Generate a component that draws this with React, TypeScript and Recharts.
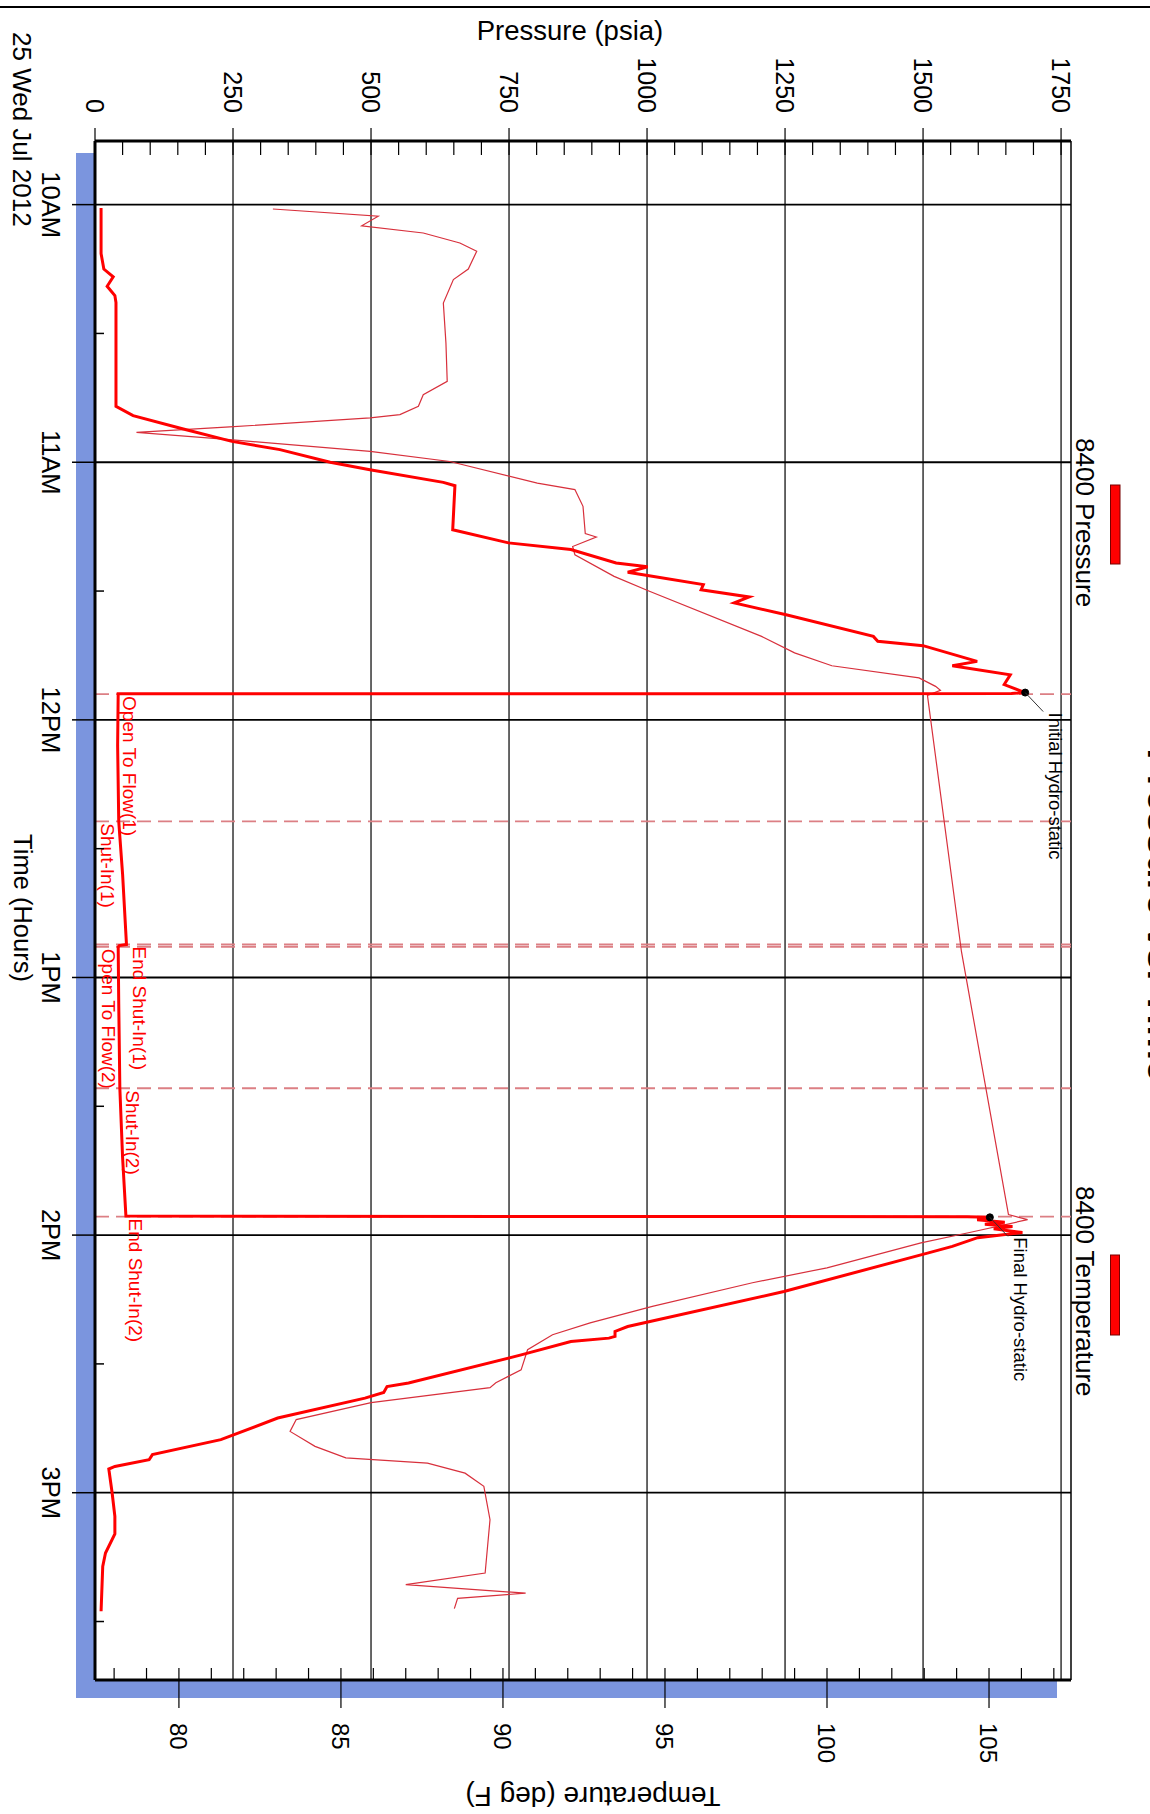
import { LineChart, Line, XAxis, YAxis, ReferenceLine, ReferenceDot } from 'recharts'

// the chart is laid out landscape and turned 90deg clockwise onto the page
const W = 1814
const H = 1150
const FONT = '"Liberation Sans", Arial, Helvetica, sans-serif'
const SHADOW = '#7b95de'
const EVENT_COLOR = '#dc7f84'

const TIME_DOMAIN = [9.753, 15.727]
const TIME_TICKS = [10, 11, 12, 13, 14, 15]
const TIME_TICK_LABELS = ['10AM', '11AM', '12PM', '1PM', '2PM', '3PM']
const TIME_MINOR = [10.5, 11.5, 12.5, 13.5, 14.5, 15.5]

const PRESSURE_DOMAIN = [0, 1768]
const PRESSURE_TICKS = [0, 250, 500, 750, 1000, 1250, 1500, 1750]
const TEMP_DOMAIN = [77.41, 107.53]
const TEMP_TICKS = [80, 85, 90, 95, 100, 105]

const PRESSURE_MINOR = Array.from({ length: 36 }, (_, i) => i * 50)
const TEMP_MINOR = Array.from({ length: 30 }, (_, i) => 78 + i)

// 8400 Pressure (psia)
const PRESSURE_TIME = [
  10.013, 10.19, 10.25, 10.28, 10.317, 10.353, 10.38, 10.783, 10.819, 10.871, 10.919, 10.951, 11.0, 11.029,
  11.078, 11.091, 11.262, 11.313, 11.339, 11.391, 11.406, 11.427, 11.44, 11.475, 11.495, 11.523, 11.546,
  11.592, 11.676, 11.695, 11.712, 11.773, 11.79, 11.825, 11.863, 11.894, 11.898, 11.899, 12.1, 12.394, 12.6,
  12.872, 12.876, 12.882, 13.1, 13.43, 13.7, 13.926, 13.929, 13.931, 13.94, 13.95, 13.958, 13.967, 13.975,
  13.99, 14.01, 14.044, 14.07, 14.219, 14.355, 14.374, 14.393, 14.4, 14.413, 14.465, 14.574, 14.588, 14.611,
  14.633, 14.71, 14.794, 14.852, 14.872, 14.898, 14.908, 15.0, 15.092, 15.16, 15.234, 15.286, 15.46,
]
const PRESSURE_PSI = [
  11, 11, 16, 33, 22, 36, 38, 38, 69, 160, 248, 335, 426, 498,
  631, 652, 648, 749, 862, 944, 1001, 965, 1001, 1102, 1098, 1185, 1158,
  1252, 1410, 1418, 1500, 1598, 1553, 1658, 1647, 1685, 1660, 42, 41, 43, 50,
  57, 44, 42, 43, 45, 50, 56, 1580, 1621, 1598, 1648, 1612, 1662, 1628,
  1680, 1599, 1553, 1508, 1248, 965, 942, 942, 931, 862, 772, 568, 529, 523,
  489, 331, 228, 104, 98, 36, 25, 31, 36, 36, 19, 14, 11,
]

// 8400 Temperature (deg F)
const TEMP_TIME = [
  10.017, 10.045, 10.082, 10.11, 10.149, 10.181, 10.25, 10.291, 10.382, 10.537, 10.686, 10.738, 10.783,
  10.815, 10.828, 10.863, 10.884, 10.912, 10.958, 10.997, 11.081, 11.106, 11.171, 11.277, 11.29, 11.327,
  11.359, 11.443, 11.501, 11.676, 11.74, 11.79, 11.837, 11.87, 11.885, 11.905, 12.9, 13.92, 13.94, 13.99,
  14.03, 14.127, 14.185, 14.277, 14.341, 14.387, 14.445, 14.523, 14.573, 14.592, 14.65, 14.716, 14.762,
  14.82, 14.865, 14.885, 14.924, 14.975, 15.105, 15.312, 15.357, 15.39, 15.41, 15.45,
]
const TEMP_DEGF = [
  82.9, 86.15, 85.64, 87.54, 88.67, 89.19, 88.93, 88.47, 88.16, 88.24, 88.28, 87.54, 87.39,
  86.82, 85.9, 81.57, 78.69, 81.57, 85.9, 88.36, 91.06, 92.22, 92.47, 92.54, 92.88, 92.15,
  92.22, 93.43, 94.52, 97.98, 99.0, 100.15, 102.84, 103.35, 103.5, 103.1, 104.15, 105.6, 106.19, 104.4,
  102.9, 100.0, 97.7, 94.61, 92.69, 91.53, 90.76, 90.56, 89.78, 89.6, 85.93, 83.62, 83.43,
  84.2, 85.15, 87.67, 88.83, 89.41, 89.6, 89.45, 87.0, 90.7, 88.6, 88.5,
]

const EVENT_NAMES = ['Open To Flow(1)', 'Shut-In(1)', 'End Shut-In(1)', 'Open To Flow(2)', 'Shut-In(2)', 'End Shut-In(2)']
const EVENT_TIMES = [11.9, 12.394, 12.872, 12.881, 13.43, 13.928]
// label baseline height above the time axis, px
const EVENT_LABEL_RAISE = [28, 6, 38, 7, 31, 34]

const HYDRO_NAMES = ['Initial Hydro-static', 'Final Hydro-static']
const HYDRO_TIME = [11.894, 13.931]
const HYDRO_PSI = [1685, 1621]

const pressureData = PRESSURE_TIME.map((t, i) => ({ t, p: PRESSURE_PSI[i] }))
const tempData = TEMP_TIME.map((t, i) => ({ t, temp: TEMP_DEGF[i] }))

const PressureTick = (props: any) => {
  const { x, y, payload } = props
  const v = payload.value
  const major = PRESSURE_TICKS.includes(v)
  return (
    <g>
      <line x1={x} x2={x + 14} y1={y} y2={y} stroke="#000" strokeWidth={1.2} />
      {major && <line x1={x - 13} x2={x} y1={y} y2={y} stroke="#000" strokeWidth={1.2} />}
      {major && (
        <text x={x - 28} y={y + 9} textAnchor="end" fontSize={25} fill="#000" fontFamily={FONT}>
          {v}
        </text>
      )}
    </g>
  )
}

const TempTick = (props: any) => {
  const { x, y, payload } = props
  const v = payload.value
  const major = TEMP_TICKS.includes(v)
  return (
    <g>
      <line x1={x - 12} x2={x} y1={y} y2={y} stroke="#000" strokeWidth={1.2} />
      {major && <line x1={x} x2={x + 28} y1={y} y2={y} stroke="#000" strokeWidth={1.2} />}
      {major && (
        <text x={x + 43} y={y + 8.6} textAnchor="start" fontSize={24} fill="#000" fontFamily={FONT}>
          {v}
        </text>
      )}
    </g>
  )
}

const TimeTick = (props: any) => {
  const { x, y, payload } = props
  const idx = TIME_TICKS.indexOf(payload.value)
  if (idx < 0) {
    return <line x1={x} x2={x} y1={y - 9} y2={y} stroke="#000" strokeWidth={1.5} />
  }
  return (
    <g>
      <line x1={x} x2={x} y1={y} y2={y + 23} stroke="#000" strokeWidth={1.5} />
      <text x={x} y={y + 53} textAnchor="middle" fontSize={25.5} fill="#000" fontFamily={FONT}>
        {TIME_TICK_LABELS[idx]}
      </text>
    </g>
  )
}

const eventLabel = (text: string, raise: number) => (props: any) => {
  const vb = props.viewBox || { x: 0, y: 0, width: 0, height: 0 }
  return (
    <text x={vb.x + 2} y={vb.y + vb.height - raise} fill="#ff0000" fontSize={19} fontFamily={FONT}>
      {text}
    </text>
  )
}

const hydroLabel = (text: string) => (props: any) => {
  const vb = props.viewBox || { x: 0, y: 0, width: 0, height: 0 }
  const cx = vb.x + (vb.width || 0) / 2
  const cy = vb.y + (vb.height || 0) / 2
  return (
    <g>
      <line x1={cx} y1={cy} x2={cx + 19} y2={cy - 18} stroke="#333" strokeWidth={1} />
      <text x={cx + 20} y={cy - 24} fontSize={18.5} fill="#000" fontFamily={FONT}>
        {text}
      </text>
    </g>
  )
}

export default function App() {
  return (
    <div style={{ position: 'absolute', left: 0, top: 0, width: H, height: W, overflow: 'hidden', background: '#fff' }}>
      <div
        style={{
          position: 'absolute',
          left: 0,
          top: 0,
          width: W,
          height: H,
          transformOrigin: '0 0',
          transform: `translate(${H}px, 0) rotate(90deg)`,
          fontFamily: FONT,
        }}
      >
        {/* drop shadow + white plot background */}
        <div style={{ position: 'absolute', left: 153, top: 93, width: 1545, height: 981, background: SHADOW }} />
        <div style={{ position: 'absolute', left: 141, top: 79, width: 1539, height: 976, background: '#fff' }} />

        <div style={{ position: 'absolute', left: 0, top: 0 }}>
          <LineChart width={W} height={H} margin={{ top: 79, right: 74, bottom: 55, left: 81 }}>
            <XAxis
              dataKey="t"
              type="number"
              domain={TIME_DOMAIN}
              ticks={[...TIME_TICKS, ...TIME_MINOR].sort((a, b) => a - b)}
              interval={0}
              height={40}
              tickSize={0}
              tickMargin={0}
              tickLine={false}
              axisLine={{ stroke: '#000', strokeWidth: 3 }}
              tick={<TimeTick />}
              allowDataOverflow
            />
            <YAxis
              yAxisId="p"
              type="number"
              domain={PRESSURE_DOMAIN}
              ticks={PRESSURE_MINOR}
              interval={0}
              width={60}
              tickSize={0}
              tickMargin={0}
              tickLine={false}
              axisLine={{ stroke: '#000', strokeWidth: 3 }}
              tick={<PressureTick />}
              allowDataOverflow
            />
            <YAxis
              yAxisId="t"
              orientation="right"
              type="number"
              domain={TEMP_DOMAIN}
              ticks={TEMP_MINOR}
              interval={0}
              width={60}
              tickSize={0}
              tickMargin={0}
              tickLine={false}
              axisLine={{ stroke: '#000', strokeWidth: 3 }}
              tick={<TempTick />}
              allowDataOverflow
            />

            {PRESSURE_TICKS.slice(1).map((p) => (
              <ReferenceLine key={'pg' + p} yAxisId="p" y={p} stroke="#000" strokeWidth={1.2} />
            ))}
            <ReferenceLine yAxisId="p" y={PRESSURE_DOMAIN[1]} stroke="#000" strokeWidth={1.5} />
            {TIME_TICKS.map((h) => (
              <ReferenceLine key={'tg' + h} yAxisId="p" x={h} stroke="#000" strokeWidth={1.8} />
            ))}

            {EVENT_TIMES.map((t, i) => (
              <ReferenceLine
                key={'ev' + i}
                yAxisId="p"
                x={t}
                stroke={EVENT_COLOR}
                strokeWidth={1.8}
                strokeDasharray="14 7"
                label={eventLabel(EVENT_NAMES[i], EVENT_LABEL_RAISE[i])}
              />
            ))}

            <Line
              yAxisId="t"
              data={tempData}
              dataKey="temp"
              type="linear"
              stroke="#d8303c"
              strokeWidth={1.2}
              dot={false}
              isAnimationActive={false}
            />
            <Line
              yAxisId="p"
              data={pressureData}
              dataKey="p"
              type="linear"
              stroke="#ff0000"
              strokeWidth={3}
              dot={false}
              isAnimationActive={false}
            />

            {HYDRO_TIME.map((t, i) => (
              <ReferenceDot
                key={'hy' + i}
                yAxisId="p"
                x={t}
                y={HYDRO_PSI[i]}
                r={3.5}
                fill="#000"
                stroke="#000"
                label={hydroLabel(HYDRO_NAMES[i])}
              />
            ))}
          </LineChart>
        </div>

        <svg width={W} height={H} style={{ position: 'absolute', left: 0, top: 0, pointerEvents: 'none' }}>
          <line x1={7} x2={7} y1={0} y2={H} stroke="#000" strokeWidth={2} />
          {/* title sits mostly above the page edge, only its foot shows */}
          <text x={915} y={2.5} textAnchor="middle" fontSize={39} fontWeight="bold" fontFamily={FONT}>
            Pressure vs. Time
          </text>
          <text transform="translate(40,580) rotate(-90)" textAnchor="middle" fontSize={27.5} fontFamily={FONT}>
            Pressure (psia)
          </text>
          <text transform="translate(1787,557) rotate(90)" textAnchor="middle" fontSize={28} fontFamily={FONT}>
            Temperature (deg F)
          </text>
          <text x={908} y={1136} textAnchor="middle" fontSize={25.5} fontFamily={FONT}>
            Time (Hours)
          </text>
          <text x={32} y={1137} fontSize={26} fontFamily={FONT}>
            25 Wed Jul 2012
          </text>

          <rect x={485} y={30} width={79} height={9.5} fill="#ff0000" stroke="#700" strokeWidth={1} />
          <text x={438} y={74} fontSize={26} fontFamily={FONT}>
            8400 Pressure
          </text>
          <rect x={1255} y={30.5} width={80} height={9} fill="#ff0000" stroke="#700" strokeWidth={1} />
          <text x={1186} y={74} fontSize={26} fontFamily={FONT}>
            8400 Temperature
          </text>
        </svg>
      </div>
    </div>
  )
}
